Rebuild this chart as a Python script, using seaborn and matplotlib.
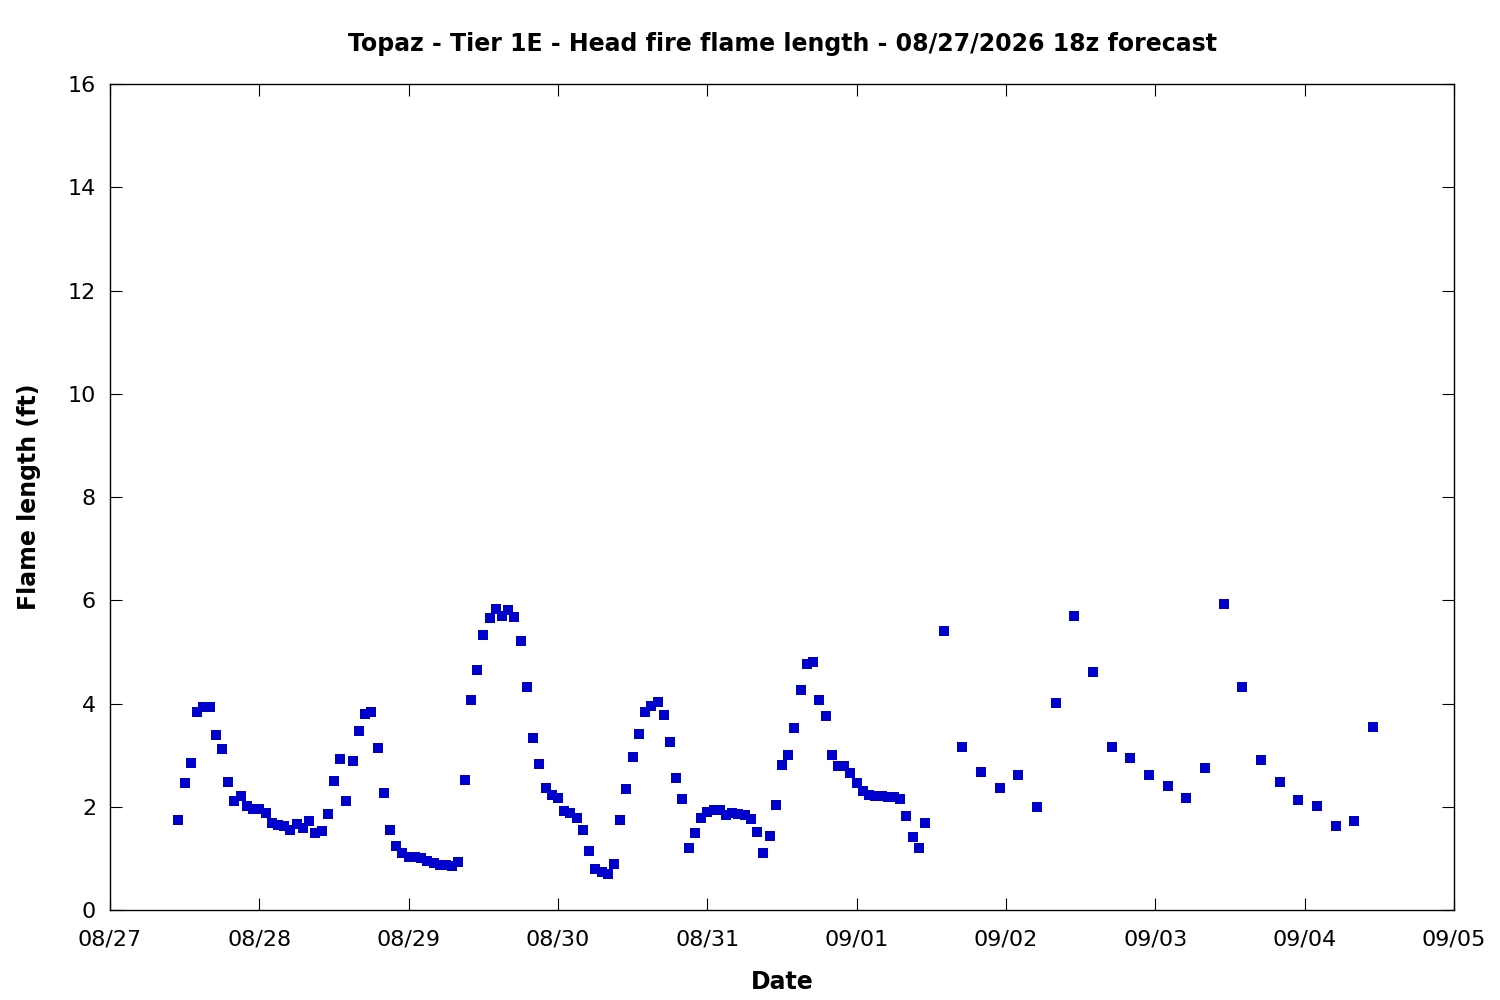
import numpy as np
import pandas as pd
import matplotlib
matplotlib.use("Agg")
import matplotlib.pyplot as plt
import matplotlib.dates as mdates
import seaborn as sns

# ---- data ----
title = "Topaz - Tier 1E - Head fire flame length - 08/27/2026 18z forecast"
x_label = "Date"
y_label = "Flame length (ft)"

hourly_start = "2026-08-27 11:00"
hourly_flame = [
    1.74, 2.46, 2.85, 3.84, 3.93, 3.93, 3.39, 3.12, 2.48, 2.11,
    2.21, 2.01, 1.96, 1.96, 1.88, 1.69, 1.65, 1.63, 1.55, 1.67,
    1.59, 1.72, 1.49, 1.53, 1.86, 2.50, 2.92, 2.11, 2.89, 3.47,
    3.80, 3.84, 3.14, 2.27, 1.55, 1.24, 1.10, 1.03, 1.03, 1.01,
    0.95, 0.91, 0.87, 0.87, 0.85, 0.93, 2.52, 4.07, 4.65, 5.33,
    5.66, 5.83, 5.69, 5.81, 5.68, 5.21, 4.32, 3.33, 2.83, 2.36,
    2.23, 2.17, 1.92, 1.88, 1.78, 1.55, 1.14, 0.79, 0.74, 0.70,
    0.89, 1.74, 2.34, 2.96, 3.41, 3.84, 3.95, 4.03, 3.78, 3.25,
    2.56, 2.15, 1.20, 1.49, 1.78, 1.90, 1.94, 1.94, 1.84, 1.88,
    1.86, 1.84, 1.76, 1.51, 1.10, 1.43, 2.03, 2.81, 3.00, 3.53,
    4.26, 4.77, 4.80, 4.07, 3.76, 3.00, 2.79, 2.79, 2.65, 2.46,
    2.31, 2.23, 2.21, 2.21, 2.19, 2.19, 2.15, 1.82, 1.41, 1.20,
    1.69,
]

threehourly_start = "2026-09-01 14:00"
threehourly_flame = [
    5.40, 3.16, 2.67, 2.36, 2.61, 1.99, 4.01, 5.69, 4.61, 3.16,
    2.94, 2.61, 2.40, 2.17, 2.75, 5.93, 4.32, 2.91, 2.48, 2.13,
    2.01, 1.63, 1.72, 3.54,
]

x_start = "2026-08-27"
x_end = "2026-09-05"
y_ticks = [0, 2, 4, 6, 8, 10, 12, 14, 16]

# ---- build table ----
t1 = pd.date_range(hourly_start, periods=len(hourly_flame), freq="h")
t2 = pd.date_range(threehourly_start, periods=len(threehourly_flame), freq="3h")
df = pd.DataFrame({
    "time": list(t1) + list(t2),
    "flame": hourly_flame + threehourly_flame,
})

# ---- style ----
sns.set_theme(style="white")
plt.rcParams["font.family"] = ["DejaVu Sans"]
plt.rcParams.update({
    "text.color": "black",
    "axes.labelcolor": "black",
    "axes.edgecolor": "black",
    "axes.linewidth": 1.0,
    "xtick.direction": "in",
    "ytick.direction": "in",
    "xtick.major.size": 8.6,
    "ytick.major.size": 8.6,
    "xtick.major.width": 0.8,
    "ytick.major.width": 0.8,
    "xtick.top": True,
    "ytick.right": True,
    "xtick.bottom": True,
    "ytick.left": True,
    "xtick.color": "black",
    "ytick.color": "black",
})

fig = plt.figure(figsize=(15, 10), dpi=100)
ax = fig.add_axes([110 / 1500, 90 / 1000, (1454 - 110) / 1500, (910 - 84) / 1000])

sns.scatterplot(data=df, x="time", y="flame", ax=ax, marker="s", s=44,
                color="#0000CC", linewidth=0, legend=False)

ax.set_xlim(pd.Timestamp(x_start), pd.Timestamp(x_end))
ax.set_ylim(y_ticks[0], y_ticks[-1])
ax.set_yticks(y_ticks)
ax.xaxis.set_major_locator(mdates.DayLocator())
ax.xaxis.set_major_formatter(mdates.DateFormatter("%m/%d"))
ax.tick_params(axis="both", labelsize=16, pad=10, labelcolor="black")
ax.tick_params(axis="x", pad=14)

ax.set_title(title, fontsize=17, fontweight="bold", pad=23.5, color="black")
ax.set_xlabel(x_label, fontsize=17, fontweight="bold", labelpad=15, color="black")
ax.set_ylabel(y_label, fontsize=17, fontweight="bold", labelpad=19, color="black")

for s in ax.spines.values():
    s.set_visible(True)
    s.set_color("black")
    s.set_linewidth(1.0)

fig.savefig("out.png", dpi=100)
